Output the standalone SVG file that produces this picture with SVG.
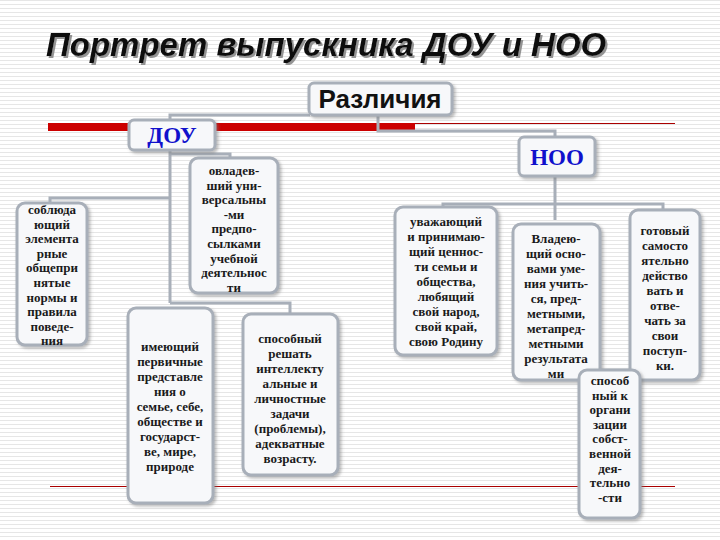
<svg xmlns="http://www.w3.org/2000/svg" width="720" height="540" viewBox="0 0 720 540">
<defs>
<pattern id="stripes" width="4" height="4" patternUnits="userSpaceOnUse"><rect width="4" height="4" fill="#ffffff"/><rect y="0" width="4" height="1" fill="#e6e6e6"/></pattern>
<filter id="sh" x="-10%" y="-10%" width="130%" height="130%"><feDropShadow dx="2" dy="2" stdDeviation="1.5" flood-color="#777" flood-opacity="0.5"/></filter>
<filter id="tsh" x="-5%" y="-20%" width="110%" height="150%"><feDropShadow dx="2" dy="2" stdDeviation="0.5" flood-color="#888" flood-opacity="0.9"/></filter>
</defs>
<style>
.box{fill:#f7f8fa;stroke:#a8afb9;stroke-width:3;filter:url(#sh)}
.t{font-family:"Liberation Serif","Times New Roman","DejaVu Serif",serif;font-weight:bold;font-size:13px;fill:#1a1a1a;text-anchor:middle}
.h{font-family:"Liberation Serif","Times New Roman","DejaVu Serif",serif;font-weight:bold;font-size:23px;fill:#1010cc;text-anchor:middle}
.c{stroke:#a8afb9;stroke-width:3;fill:none}
</style>
<rect width="720" height="540" fill="url(#stripes)"/>
<text x="46" y="56" filter="url(#tsh)" font-family="Liberation Sans,sans-serif" font-weight="bold" font-style="italic" font-size="33" fill="#111">Портрет выпускника ДОУ и НОО</text>
<rect x="48" y="123" width="367" height="8" fill="#cc0000"/>
<line x1="415" y1="123.5" x2="675" y2="123.5" stroke="#aa0000" stroke-width="1"/>
<line x1="50" y1="486.5" x2="675" y2="486.5" stroke="#aa0000" stroke-width="1"/>
<g id="connectors" class="c">
<polyline points="170,120 170,115 310,115"/>
<polyline points="378,115 378,131 555,131 555,137"/>
<polyline points="170,150 170,303"/>
<polyline points="170,154 230,154 230,158"/>
<polyline points="50,202 50,198 170,198"/>
<polyline points="170,303 290,303 290,314"/>
<polyline points="555,176 555,220"/>
<polyline points="443,207 443,204 663,204 663,210"/>
</g>
<g id="razlichiya"><rect class="box" x="309" y="83" width="143" height="32" rx="5"/><text x="380" y="108" text-anchor="middle" font-family="Liberation Sans,sans-serif" font-weight="bold" font-size="26" fill="#111">Различия</text></g>
<g id="dou"><rect class="box" x="129" y="120" width="86" height="30" rx="5"/><text class="h" x="172" y="143">ДОУ</text></g>
<g id="noo"><rect class="box" x="519" y="137" width="76" height="39" rx="5"/><text class="h" x="557" y="165">НОО</text></g>
<g id="n1"><rect class="box" x="17" y="203" width="70" height="142" rx="8"/>
<text class="t" x="52" y="214">соблюда<tspan x="52" dy="14.6">ющий</tspan><tspan x="52" dy="14.6">элемента</tspan><tspan x="52" dy="14.6">рные</tspan><tspan x="52" dy="14.6">общепри</tspan><tspan x="52" dy="14.6">нятые</tspan><tspan x="52" dy="14.6">нормы и</tspan><tspan x="52" dy="14.6">правила</tspan><tspan x="52" dy="14.6">поведе-</tspan><tspan x="52" dy="14.6">ния</tspan></text></g>
<g id="n2"><rect class="box" x="190" y="158" width="88" height="135" rx="8"/>
<text class="t" x="234" y="175">овладев-<tspan x="234" dy="14.6">ший уни-</tspan><tspan x="234" dy="14.6">версальны</tspan><tspan x="234" dy="14.6">-ми</tspan><tspan x="234" dy="14.6">предпо-</tspan><tspan x="234" dy="14.6">сылками</tspan><tspan x="234" dy="14.6">учебной</tspan><tspan x="234" dy="14.6">деятельнос</tspan><tspan x="234" dy="14.6">ти</tspan></text></g>
<g id="n3"><rect class="box" x="128" y="308" width="85" height="195" rx="8"/>
<text class="t" x="170" y="351">имеющий<tspan x="170" dy="15">первичные</tspan><tspan x="170" dy="15">представле</tspan><tspan x="170" dy="15">ния о</tspan><tspan x="170" dy="15">семье, себе,</tspan><tspan x="170" dy="15">обществе и</tspan><tspan x="170" dy="15">государст-</tspan><tspan x="170" dy="15">ве, мире,</tspan><tspan x="170" dy="15">природе</tspan></text></g>
<g id="n4"><rect class="box" x="243" y="314" width="95" height="161" rx="8"/>
<text class="t" x="290" y="343">способный<tspan x="290" dy="15">решать</tspan><tspan x="290" dy="15">интеллекту</tspan><tspan x="290" dy="15">альные и</tspan><tspan x="290" dy="15">личностные</tspan><tspan x="290" dy="15">задачи</tspan><tspan x="290" dy="15">(проблемы),</tspan><tspan x="290" dy="15">адекватные</tspan><tspan x="290" dy="15">возрасту.</tspan></text></g>
<g id="n5"><rect class="box" x="395" y="207" width="102" height="148" rx="8"/>
<text class="t" x="446" y="226">уважающий<tspan x="446" dy="15">и принимаю-</tspan><tspan x="446" dy="15">щий ценнос-</tspan><tspan x="446" dy="15">ти семьи и</tspan><tspan x="446" dy="15">общества,</tspan><tspan x="446" dy="15">любящий</tspan><tspan x="446" dy="15">свой народ,</tspan><tspan x="446" dy="15">свой край,</tspan><tspan x="446" dy="15">свою Родину</tspan></text></g>
<g id="n6"><rect class="box" x="513" y="224" width="87" height="156" rx="8"/>
<text class="t" x="556" y="243">Владею-<tspan x="556" dy="15">щий осно-</tspan><tspan x="556" dy="15">вами  уме-</tspan><tspan x="556" dy="15">ния учить-</tspan><tspan x="556" dy="15">ся, пред-</tspan><tspan x="556" dy="15">метными,</tspan><tspan x="556" dy="15">метапред-</tspan><tspan x="556" dy="15">метными</tspan><tspan x="556" dy="15">результата</tspan><tspan x="556" dy="15">ми</tspan></text></g>
<g id="n7"><rect class="box" x="630" y="210" width="70" height="170" rx="8"/>
<text class="t" x="665" y="235">готовый<tspan x="665" dy="15">самосто</tspan><tspan x="665" dy="15">ятельно</tspan><tspan x="665" dy="15">действо</tspan><tspan x="665" dy="15">вать и</tspan><tspan x="665" dy="15">отве-</tspan><tspan x="665" dy="15">чать за</tspan><tspan x="665" dy="15">свои</tspan><tspan x="665" dy="15">поступ-</tspan><tspan x="665" dy="15">ки.</tspan></text></g>
<g id="n8"><rect class="box" x="579" y="370" width="61" height="148" rx="8"/>
<text class="t" x="610" y="385">способ<tspan x="610" dy="14.6">ный к</tspan><tspan x="610" dy="14.6">органи</tspan><tspan x="610" dy="14.6">зации</tspan><tspan x="610" dy="14.6">собст-</tspan><tspan x="610" dy="14.6">венной</tspan><tspan x="610" dy="14.6">дея-</tspan><tspan x="610" dy="14.6">тельно</tspan><tspan x="610" dy="14.6">-сти</tspan></text></g>
</svg>
